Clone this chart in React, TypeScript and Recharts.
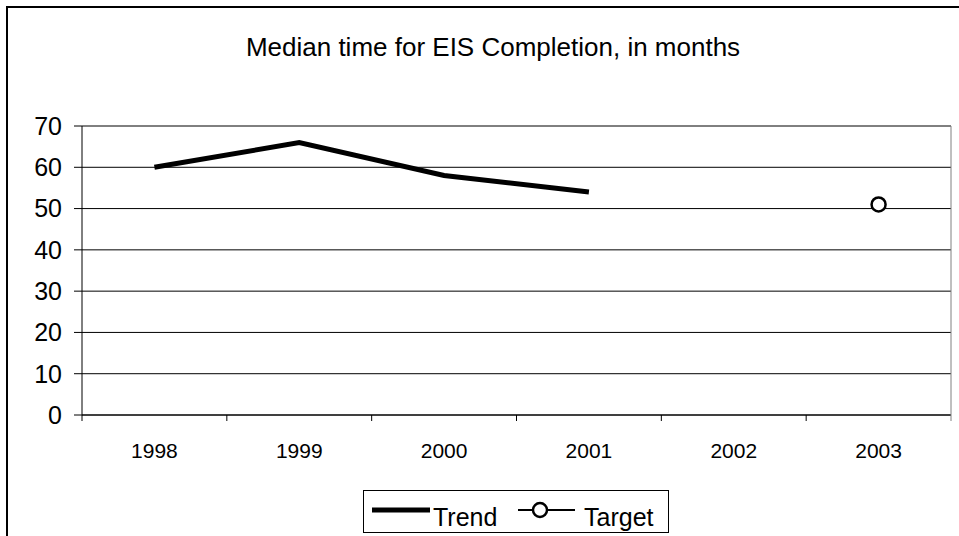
import { LineChart, Line, XAxis, YAxis, CartesianGrid } from "recharts";

const years = ["1998", "1999", "2000", "2001", "2002", "2003"];
const trend = [60, 66, 58, 54, null, null];
const target = [null, null, null, null, null, 51];
const yTicks = [0, 10, 20, 30, 40, 50, 60, 70];
const seriesNames = ["Trend", "Target"];

const data = years.map((year, i) => ({ year, trend: trend[i], target: target[i] }));

const W = 959;
const H = 536;
const PLOT_LEFT = 82;
const PLOT_RIGHT = 951;
const band = (PLOT_RIGHT - PLOT_LEFT) / years.length;
const font = "'Liberation Sans', Arial, sans-serif";

function YearTick(props: any) {
  const { x, y, payload, index } = props;
  const edge = x - band / 2;
  return (
    <g>
      <line x1={edge} x2={edge} y1={y} y2={y + 6} stroke="#000" />
      {index === years.length - 1 && (
        <line x1={x + band / 2} x2={x + band / 2} y1={y} y2={y + 6} stroke="#808080" />
      )}
      <text x={x} y={y + 43} textAnchor="middle" fontSize={21} fill="#000" fontFamily={font}>
        {payload.value}
      </text>
    </g>
  );
}

function LegendBox() {
  return (
    <svg
      width={306}
      height={43}
      style={{ position: "absolute", left: 363, top: 490 }}
    >
      <rect x={0.5} y={0.5} width={305} height={42} fill="#fff" stroke="#000" />
      <line x1={9} x2={67} y1={20} y2={20} stroke="#000" strokeWidth={5} />
      <text x={70} y={36} fontSize={25} fontFamily={font} fill="#000">
        {seriesNames[0]}
      </text>
      <line x1={155} x2={212} y1={20} y2={20} stroke="#000" strokeWidth={2} />
      <circle cx={177} cy={20} r={7} fill="#fff" stroke="#000" strokeWidth={2.5} />
      <text x={221} y={36} fontSize={25} fontFamily={font} fill="#000">
        {seriesNames[1]}
      </text>
    </svg>
  );
}

export default function App() {
  return (
    <div
      style={{
        position: "absolute",
        left: 0,
        top: 0,
        width: W,
        height: H,
        overflow: "hidden",
        background: "#fff",
        fontFamily: font,
      }}
    >
      <div
        style={{
          position: "absolute",
          left: 6,
          top: 6,
          width: 1000,
          height: 600,
          border: "2px solid #000",
        }}
      />
      <div
        style={{
          position: "absolute",
          left: 0,
          width: 986,
          top: 32,
          textAlign: "center",
          fontSize: 26,
          color: "#000",
        }}
      >
        Median time for EIS Completion, in months
      </div>
      <div style={{ position: "absolute", left: 0, top: 0 }}>
        <LineChart
          width={W}
          height={H}
          data={data}
          margin={{ top: 126, right: 0, left: 0, bottom: 81 }}
        >
          <CartesianGrid yAxisId="left" vertical={false} stroke="#000" />
          <XAxis
            dataKey="year"
            scale="band"
            height={40}
            axisLine={{ stroke: "#000" }}
            tickLine={false}
            tickSize={0}
            tickMargin={0}
            interval={0}
            tick={<YearTick />}
          />
          <YAxis
            yAxisId="left"
            width={82}
            domain={[0, 70]}
            ticks={yTicks}
            interval={0}
            axisLine={{ stroke: "#000" }}
            tickLine={{ stroke: "#000" }}
            tickSize={8}
            tickMargin={12}
            tick={{ fontSize: 25, fill: "#000", fontFamily: font }}
          />
          <YAxis
            yAxisId="right"
            orientation="right"
            width={8}
            domain={[0, 70]}
            ticks={yTicks}
            axisLine={{ stroke: "#808080" }}
            tick={false}
            tickLine={false}
          />
          <Line
            yAxisId="left"
            dataKey="trend"
            stroke="#000"
            strokeWidth={5}
            dot={false}
            connectNulls={false}
            isAnimationActive={false}
          />
          <Line
            yAxisId="left"
            dataKey="target"
            stroke="#000"
            strokeWidth={2}
            dot={{ r: 7, fill: "#fff", stroke: "#000", strokeWidth: 2.5 }}
            isAnimationActive={false}
          />
        </LineChart>
      </div>
      <LegendBox />
    </div>
  );
}
